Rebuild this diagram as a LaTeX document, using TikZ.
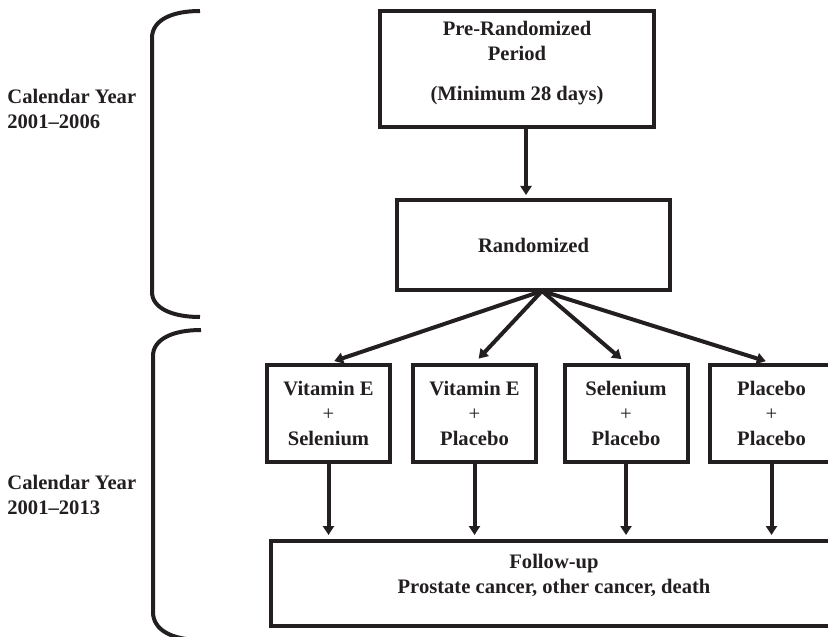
\documentclass[tikz,border=0pt]{standalone}
\usepackage{fontspec}
\setmainfont{Liberation Serif}
\usepackage{tikz}
\usetikzlibrary{arrows.meta,positioning}
\definecolor{ink}{HTML}{231F20}
\tikzset{
  box/.style   ={draw=ink,line width=2pt,align=center,inner sep=2pt,text=ink},
  arm/.style   ={box,minimum width=61.5pt,minimum height=48.5pt},
  yearlbl/.style={anchor=north west,align=left,inner sep=0pt,text=ink},
  flow/.style  ={-{Triangle[length=4.5pt,width=5.5pt]},line width=2pt,draw=ink},
  bracket/.style={line width=2pt,draw=ink}
}

\begin{document}
\begin{tikzpicture}[x=0.5pt,y=-0.5pt,
                    every node/.style={font=\fontsize{10.3}{12.5}\selectfont\bfseries}]
    \useasboundingbox (0,0) rectangle (828,636);
    \clip (0,0) rectangle (828,636);
    % calendar periods
    \node[yearlbl] (yrA) at (7,89) {Calendar Year\\2001--2006};
    \node[yearlbl] (yrB) at (7,475) {Calendar Year\\2001--2013};
    \draw[bracket] (200,11) .. controls (172,11) and (152,20) .. (152,38)
                   -- (152,292) .. controls (152,308) and (172,317) .. (200,317);
    \draw[bracket] (201,330) .. controls (173,330) and (153,339) .. (153,356)
                   -- (153,612) .. controls (153,630) and (172,640) .. (201,640);
    % trial flow
    \node[box,minimum width=137pt,minimum height=58pt,text depth=8.5pt] (pre) at (517,69)
        {Pre-Randomized\\Period\\[7.5pt](Minimum 28 days)};
    \node[box,minimum width=136.5pt,minimum height=45pt] (rand) at (533.5,245) {Randomized};
    \draw[flow,shorten >=1.5pt] ([xshift=4.5pt]pre.south) -- ([xshift=4.5pt]pre.south |- rand.north);
    \node[arm] (armA) at (328.5,413.5) {Vitamin E\\\textmd{+}\\Selenium};
    \node[arm] (armB) at (474.5,413.5) {Vitamin E\\\textmd{+}\\Placebo};
    \node[arm] (armC) at (626,413.5) {Selenium\\\textmd{+}\\Placebo};
    \node[arm] (armD) at (771.5,413.5) {Placebo\\\textmd{+}\\Placebo};
    \coordinate (fan) at (542,291);
    \draw[flow,shorten >=3pt] (fan) -- (armA.north); \draw[flow,shorten >=3pt] (fan) -- (armB.north);
    \draw[flow,shorten >=3pt] (fan) -- (armC.north); \draw[flow,shorten >=3pt] (fan) -- (armD.north);
    \node[box,minimum width=283pt,minimum height=42.5pt,text depth=10pt] (fup) at (554,583.5)
        {Follow-up\\Prostate cancer, other cancer, death};
    \draw[flow,shorten >=2pt] (armA) -- (armA |- fup.north); \draw[flow,shorten >=2pt] (armB) -- (armB |- fup.north);
    \draw[flow,shorten >=2pt] (armC) -- (armC |- fup.north); \draw[flow,shorten >=2pt] (armD) -- (armD |- fup.north);
\end{tikzpicture}
\end{document}
